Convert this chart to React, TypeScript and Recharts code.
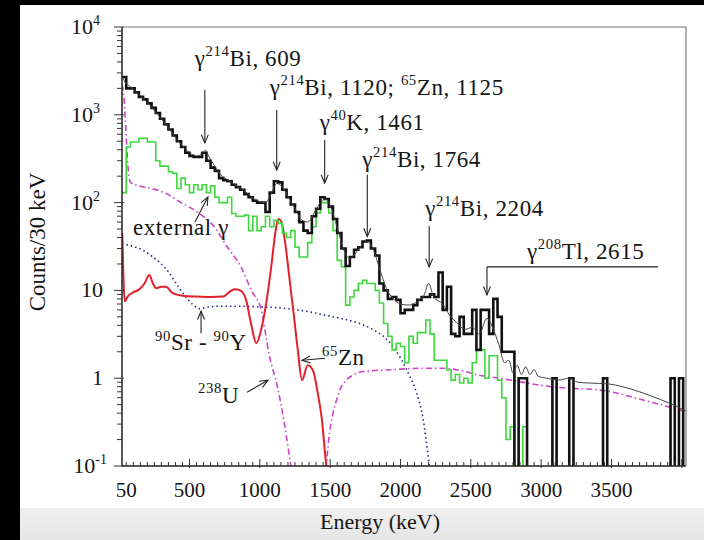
import React from 'react';
import { ComposedChart, Line, XAxis, YAxis } from 'recharts';

// Gamma spectrum, 30 keV bins starting at 20 keV. 0 = empty bin.
const BIN_START = 20;
const BIN_WIDTH = 30;

const measuredCounts = [
  2700, 2000, 2000, 1800, 1600, 1500, 1350, 1200, 1050, 900,
  780, 680, 580, 500, 430, 370, 340, 330, 330, 370,
  300, 250, 230, 190, 180, 175, 160, 150, 140, 125,
  115, 105, 100, 100, 78, 130, 175, 170, 140, 115,
  95, 78, 60, 48, 45, 70, 85, 115, 110, 90,
  65, 45, 30, 19, 24, 29, 31, 36, 37, 30,
  25, 12, 10, 8, 8.4, 7.8, 5.5, 6, 6, 6.8,
  7.8, 8.4, 8.4, 9, 8.4, 16, 6, 11, 3.2, 3,
  5, 3.2, 3.2, 6, 2.1, 6, 6, 3.2, 8, 5,
  2, 2, 2, 0, 1, 1, 0, 0, 0, 0,
  0, 0, 1, 0, 0, 0, 1, 0, 0, 0,
  0, 0, 0, 0, 1, 0, 0, 0, 0, 0,
  0, 0, 0, 0, 0, 0, 0, 0, 0, 0,
  1, 0, 1, 0,
];

const externalCounts = [
  130, 430, 490, 490, 540, 540, 490, 490, 300, 260,
  260, 225, 215, 145, 190, 160, 130, 160, 140, 160,
  130, 155, 115, 100, 100, 115, 75, 70, 70, 72,
  48, 70, 48, 53, 70, 53, 63, 58, 45, 40,
  48, 31, 24, 24, 35, 53, 76, 100, 100, 76,
  48, 22, 18.6, 6.8, 8.4, 10, 12, 13, 12, 12,
  10, 7.2, 4.2, 3, 2.1, 2.5, 2.3, 1.5, 3, 2.5,
  3.3, 3.3, 4.6, 3.2, 1.6, 1.6, 1.6, 1.24, 0.95, 1.1,
  0.88, 1, 0.88, 1.5, 2.1, 2.1, 1, 1.8, 1.8, 0.95,
  0.6, 0.2, 0.28, 0, 0, 0.28, 0,
];

// smooth model curves: [energy keV, counts]
const fitCurve = [
  [25, 2650], [45, 2300], [70, 2150], [100, 1950], [150, 1650], [200, 1380], [250, 1120],
  [300, 900], [350, 710], [400, 550], [450, 440], [500, 370], [550, 340], [590, 360],
  [612, 395], [640, 330], [680, 260], [720, 210], [780, 178], [850, 150], [900, 132],
  [950, 113], [1000, 102], [1040, 100], [1080, 125], [1120, 165], [1160, 150], [1200, 118],
  [1250, 85], [1300, 63], [1340, 60], [1390, 78], [1430, 100], [1465, 110], [1500, 92],
  [1550, 52], [1600, 28], [1640, 23], [1700, 29], [1760, 36], [1800, 31], [1850, 18],
  [1900, 10.5], [1950, 8], [2000, 7], [2060, 6.8], [2120, 7.5], [2170, 9], [2200, 12],
  [2235, 8.5], [2300, 7], [2350, 5.2], [2400, 4.3], [2460, 3.6], [2510, 3.8], [2560, 3.2],
  [2615, 4.8], [2660, 3.6], [2700, 2.4], [2740, 1.5], [2770, 1.6], [2800, 1.15], [2830, 1.4],
  [2860, 1.1], [2890, 1.35], [2920, 1.1], [2950, 1.25], [2980, 1.05], [3040, 1.0], [3120, 0.95],
  [3200, 1.0], [3260, 0.9], [3350, 0.88], [3480, 0.86], [3580, 0.8], [3700, 0.7], [3850, 0.57],
  [3960, 0.48], [4030, 0.42],
];

const extGammaCurve = [
  [20, 2200], [35, 1500], [45, 800], [55, 400], [65, 230], [80, 170], [140, 155], [200, 148],
  [320, 130], [440, 100], [555, 78], [676, 53], [770, 31], [870, 18], [940, 10], [1010, 6],
  [1068, 1.8], [1125, 0.8], [1175, 0.3], [1210, 0.13], [1225, 0.09],
];

const highTailCurve = [
  [1470, 0.09], [1490, 0.2], [1520, 0.4], [1545, 0.56], [1580, 0.8], [1615, 0.95], [1660, 1.08],
  [1708, 1.17], [1800, 1.22], [1900, 1.24], [2000, 1.27], [2185, 1.3], [2300, 1.3], [2450, 1.2],
  [2560, 1.08], [2700, 1.0], [2835, 0.92], [3070, 0.8], [3250, 0.76], [3400, 0.74], [3550, 0.67],
  [3660, 0.6], [3850, 0.5], [4000, 0.43], [4030, 0.42],
];

const srYCurve = [
  [20, 34], [60, 33], [120, 31], [180, 28], [240, 24], [300, 20], [360, 15.5], [420, 11],
  [470, 8.6], [520, 7.0], [570, 6.2], [620, 6.4], [700, 6.6], [850, 6.6], [1000, 6.5],
  [1100, 6.4], [1230, 6.1], [1350, 5.7], [1470, 5.2], [1600, 4.7], [1708, 4.2], [1800, 3.6],
  [1900, 2.8], [2000, 1.7], [2060, 1.1], [2113, 0.69], [2160, 0.35], [2206, 0.1], [2220, 0.07],
];

const zn65Curve = [
  [22, 45], [40, 7.5], [60, 8.5], [100, 9.5], [140, 10.2], [180, 12], [214, 15], [240, 12],
  [263, 10.6], [300, 11], [333, 11], [380, 9.3], [450, 8.7], [550, 8.5], [650, 8.4], [740, 8.5],
  [780, 9.5], [820, 10.3], [860, 10], [900, 8], [940, 4], [975, 2.5], [1010, 3.6], [1050, 8],
  [1080, 18], [1110, 45], [1130, 65], [1150, 62], [1180, 35], [1210, 14], [1240, 5.5],
  [1270, 2.1], [1300, 0.95], [1340, 1.4], [1380, 1.2], [1410, 0.7], [1440, 0.35], [1470, 0.11],
  [1480, 0.08],
];

const xLabels = [50, 500, 1000, 1500, 2000, 2500, 3000, 3500];
const yDecades = [0.1, 1, 10, 100, 1000, 10000];

const SERIF = '"Liberation Serif", "Times New Roman", serif';
const W = 704;
const H = 540;
const MARGIN = { top: 27, right: 18, bottom: 34, left: 42 };
const Y_AXIS_W = 80;
const X_AXIS_H = 40;
const X_DOMAIN = [20, 4030];
const Y_DOMAIN = [0.1, 10000];
const PLOT = {
  left: MARGIN.left + Y_AXIS_W,
  right: W - MARGIN.right,
  top: MARGIN.top,
  bottom: H - MARGIN.bottom - X_AXIS_H,
};

const px = (e: number) =>
  PLOT.left + ((e - X_DOMAIN[0]) / (X_DOMAIN[1] - X_DOMAIN[0])) * (PLOT.right - PLOT.left);
const py = (v: number) => {
  const lo = Math.log10(Y_DOMAIN[0]);
  const hi = Math.log10(Y_DOMAIN[1]);
  return PLOT.bottom - ((Math.log10(v) - lo) / (hi - lo)) * (PLOT.bottom - PLOT.top);
};

// empty bins sit below the log axis and get clipped
const toSteps = (counts: number[]) => {
  const pts = counts.map((c, i) => ({ e: BIN_START + i * BIN_WIDTH, v: c > 0 ? c : 0.01 }));
  pts.push({ e: BIN_START + counts.length * BIN_WIDTH, v: pts[pts.length - 1].v });
  return pts;
};
const toPoints = (pairs: number[][]) => pairs.map(([e, v]) => ({ e, v }));

const xTicks: number[] = [];
for (let e = 50; e <= 4000; e += 50) xTicks.push(e);
const yTicks: number[] = [];
yDecades.slice(0, -1).forEach((d) => {
  for (let k = 1; k < 10; k++) yTicks.push(+(d * k).toPrecision(3));
});
yTicks.push(10000);

type Part = { t: string; sup?: boolean };

const Rich = ({ x, y, parts, size = 23, spacing = 0.6 }: { x: number; y: number; parts: Part[]; size?: number; spacing?: number }) => {
  let shift = 0;
  return (
    <text x={x} y={y} fontSize={size} fontFamily={SERIF} fill="#151515" style={{ letterSpacing: spacing }}>
      {parts.map((p, i) => {
        const target = p.sup ? -0.42 * size : 0;
        const dy = target - shift;
        shift = target;
        return (
          <tspan key={i} dy={dy} fontSize={p.sup ? size * 0.64 : size}>
            {p.t}
          </tspan>
        );
      })}
    </text>
  );
};

const Arrow = ({ x1, y1, x2, y2 }: { x1: number; y1: number; x2: number; y2: number }) => {
  const a = Math.atan2(y2 - y1, x2 - x1);
  const L = 9;
  const s = 0.4;
  const h1 = [x2 - L * Math.cos(a - s), y2 - L * Math.sin(a - s)];
  const h2 = [x2 - L * Math.cos(a + s), y2 - L * Math.sin(a + s)];
  return (
    <g stroke="#222" strokeWidth={1.1} fill="none">
      <line x1={x1} y1={y1} x2={x2} y2={y2} />
      <polyline points={`${h1[0]},${h1[1]} ${x2},${y2} ${h2[0]},${h2[1]}`} />
    </g>
  );
};

const peakNotes = [
  { e: 609, tip: 478, len: 53, gap: 24, dx: -10, parts: [{ t: 'γ' }, { t: '214', sup: true }, { t: 'Bi, 609' }] },
  {
    e: 1120, tip: 235, len: 60, gap: 15, dx: -7,
    parts: [{ t: 'γ' }, { t: '214', sup: true }, { t: 'Bi, 1120; ' }, { t: '65', sup: true }, { t: 'Zn, 1125' }],
  },
  { e: 1461, tip: 167, len: 43, gap: 10, dx: -5, parts: [{ t: 'γ' }, { t: '40', sup: true }, { t: 'K, 1461' }] },
  { e: 1764, tip: 41, len: 62, gap: 8, dx: -5, parts: [{ t: 'γ' }, { t: '214', sup: true }, { t: 'Bi, 1764' }] },
  { e: 2204, tip: 18.5, len: 41, gap: 10, dx: -4, parts: [{ t: 'γ' }, { t: '214', sup: true }, { t: 'Bi, 2204' }] },
];

const tlNote = { e: 2615, tip: 8.9, elbow: 28, endE: 3831, dx: 40, gap: 8, parts: [{ t: 'γ' }, { t: '208', sup: true }, { t: 'Tl, 2615' }] };

const sideNotes = [
  { e: 631, v: 116, tail: [-13, 25], text: [-75, 38], parts: [{ t: 'external γ' }] },
  { e: 582, v: 5.8, tail: [0, 22], text: [-46, 39], parts: [{ t: '90', sup: true }, { t: 'Sr - ' }, { t: '90', sup: true }, { t: 'Y' }] },
  { e: 1058, v: 0.95, tail: [-21, 12], text: [-70, 23], parts: [{ t: '238', sup: true }, { t: 'U' }] },
  { e: 1300, v: 1.6, tail: [23, -2], text: [20, 5], parts: [{ t: '65', sup: true }, { t: 'Zn' }] },
];

const YTick = (props: any) => {
  const { x, y, payload } = props;
  const v = payload.value;
  const exp = Math.round(Math.log10(v));
  const major = Math.abs(Math.log10(v) - exp) < 1e-6;
  let label: React.ReactNode = null;
  if (major) {
    if (exp === 0 || exp === 1) {
      label = (
        <text x={x - 19} y={y + 7} textAnchor="end" fontSize={22} fontFamily={SERIF} fill="#151515">
          {exp === 0 ? '1' : '10'}
        </text>
      );
    } else {
      label = (
        <text x={exp < 0 ? x - 15 : x - 22} y={y + 7} textAnchor="end" fontSize={22} fontFamily={SERIF} fill="#151515">
          10
          <tspan dy={-9} fontSize={14}>
            {String(exp)}
          </tspan>
        </text>
      );
    }
  }
  return (
    <g>
      <line x1={major ? x - 8 : x - 5} x2={major ? x + 2 : x} y1={y} y2={y} stroke="#333" strokeWidth={1} />
      {label}
    </g>
  );
};

const XTick = (props: any) => {
  const { x, y, payload } = props;
  const v = payload.value;
  const major = v % 500 === 0;
  return (
    <g>
      <line x1={x} x2={x} y1={major ? y - 7 : y - 4} y2={major ? y + 2 : y} stroke="#333" strokeWidth={1} />
      {xLabels.includes(v) && (
        <text x={x} y={y + 31} textAnchor="middle" fontSize={21} fontFamily={SERIF} fill="#151515">
          {v}
        </text>
      )}
    </g>
  );
};

export default function App() {
  return (
    <div style={{ position: 'absolute', left: 0, top: 0, width: W, height: H, background: '#fff', overflow: 'hidden' }}>
      <div style={{ position: 'absolute', left: 0, top: H - 32, width: W, height: 32, background: 'linear-gradient(#f0f0f0, #e6e6e6)' }} />
      <div style={{ position: 'absolute', left: 0, top: 0, width: 20, height: H, background: '#000' }} />
      <div style={{ position: 'absolute', left: 0, top: 0, width: W, height: 5, background: '#000' }} />
      <div style={{ position: 'absolute', left: 0, top: 0 }}>
        <ComposedChart width={W} height={H} margin={MARGIN}>
          <XAxis
            dataKey="e"
            type="number"
            domain={X_DOMAIN}
            allowDataOverflow
            ticks={xTicks}
            interval={0}
            tickLine={false}
            tickSize={0}
            tickMargin={0}
            height={X_AXIS_H}
            axisLine={{ stroke: '#222', strokeWidth: 1.5 }}
            tick={(p: any) => <XTick {...p} />}
          />
          <YAxis
            dataKey="v"
            type="number"
            scale="log"
            domain={Y_DOMAIN}
            allowDataOverflow
            ticks={yTicks}
            interval={0}
            tickLine={false}
            tickSize={0}
            tickMargin={0}
            width={Y_AXIS_W}
            axisLine={{ stroke: '#222', strokeWidth: 1.5 }}
            tick={(p: any) => <YTick {...p} />}
          />
          <Line data={toPoints(extGammaCurve)} dataKey="v" type="monotone" stroke="#cc44c8" strokeWidth={1.6} strokeDasharray="6 3 1.5 3" dot={false} isAnimationActive={false} />
          <Line data={toPoints(highTailCurve)} dataKey="v" type="monotone" stroke="#cc44c8" strokeWidth={1.6} strokeDasharray="6 3 1.5 3" dot={false} isAnimationActive={false} />
          <Line data={toPoints(srYCurve)} dataKey="v" type="monotone" stroke="#1f2a8f" strokeWidth={1.6} strokeDasharray="1.5 3" dot={false} isAnimationActive={false} />
          <Line data={toPoints(zn65Curve)} dataKey="v" type="monotone" stroke="#e3202c" strokeWidth={2} dot={false} isAnimationActive={false} />
          <Line data={toSteps(externalCounts)} dataKey="v" type="stepAfter" stroke="#3cd83c" strokeWidth={1.6} dot={false} isAnimationActive={false} />
          <Line data={toSteps(measuredCounts)} dataKey="v" type="stepAfter" stroke="#111" strokeWidth={2.6} dot={false} isAnimationActive={false} />
          <Line data={toPoints(fitCurve)} dataKey="v" type="monotone" stroke="#444" strokeWidth={1} dot={false} isAnimationActive={false} />
        </ComposedChart>
      </div>
      <svg width={W} height={H} style={{ position: 'absolute', left: 0, top: 0, pointerEvents: 'none' }}>
        <polyline
          points={`${PLOT.left},${PLOT.top} ${PLOT.right},${PLOT.top} ${PLOT.right},${PLOT.bottom}`}
          fill="none"
          stroke="#777"
          strokeWidth={1.2}
        />
        {peakNotes.map((n) => {
          const x = px(n.e);
          const tipY = py(n.tip);
          const tailY = tipY - n.len;
          return (
            <g key={n.e}>
              <Arrow x1={x} y1={tailY} x2={x} y2={tipY} />
              <Rich x={x + n.dx} y={tailY - n.gap} parts={n.parts} />
            </g>
          );
        })}
        {(() => {
          const x = px(tlNote.e);
          const tipY = py(tlNote.tip);
          const topY = tipY - tlNote.elbow;
          return (
            <g>
              <line x1={x} y1={topY} x2={px(tlNote.endE)} y2={topY} stroke="#222" strokeWidth={1.1} />
              <Arrow x1={x} y1={topY} x2={x} y2={tipY} />
              <Rich x={x + tlNote.dx} y={topY - tlNote.gap} parts={tlNote.parts} />
            </g>
          );
        })()}
        {sideNotes.map((n, i) => {
          const x = px(n.e);
          const y = py(n.v);
          return (
            <g key={i}>
              <Arrow x1={x + n.tail[0]} y1={y + n.tail[1]} x2={x} y2={y} />
              <Rich x={x + n.text[0]} y={y + n.text[1]} parts={n.parts} />
            </g>
          );
        })}
        <text x={380} y={529} textAnchor="middle" fontSize={22} fontFamily={SERIF} fill="#151515">
          Energy (keV)
        </text>
        <text
          x={0}
          y={0}
          transform="translate(45,242) rotate(-90)"
          textAnchor="middle"
          fontSize={23}
          fontFamily={SERIF}
          fill="#151515"
        >
          Counts/30 keV
        </text>
      </svg>
    </div>
  );
}
